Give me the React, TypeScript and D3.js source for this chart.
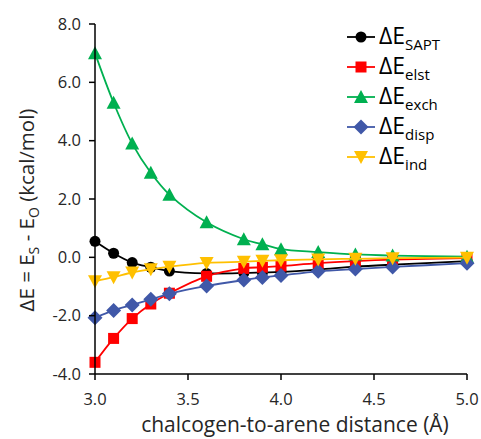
import * as d3 from "d3";

// distances (Å)
const distances = [3.0, 3.1, 3.2, 3.3, 3.4, 3.6, 3.8, 3.9, 4.0, 4.2, 4.4, 4.6, 5.0];

// energy components (kcal/mol)
const sapt = [0.55, 0.14, -0.18, -0.34, -0.47, -0.55, -0.54, -0.52, -0.5, -0.42, -0.32, -0.25, -0.13];
const elst = [-3.6, -2.78, -2.1, -1.6, -1.23, -0.65, -0.38, -0.34, -0.3, -0.2, -0.13, -0.08, -0.03];
const exch = [7.0, 5.3, 3.9, 2.9, 2.15, 1.2, 0.62, 0.45, 0.28, 0.18, 0.1, 0.06, 0.02];
const disp = [-2.07, -1.82, -1.63, -1.44, -1.25, -0.98, -0.78, -0.69, -0.62, -0.48, -0.4, -0.33, -0.2];
const ind = [-0.82, -0.68, -0.52, -0.41, -0.32, -0.19, -0.15, -0.12, -0.1, -0.07, -0.05, -0.03, -0.01];

const yTicks = [-4, -2, 0, 2, 4, 6, 8];
const xTicks = [3.0, 3.5, 4.0, 4.5, 5.0];

const series = [
  { name: "SAPT", values: sapt, color: "#000000", marker: "circle" },
  { name: "elst", values: elst, color: "#ff0000", marker: "square" },
  { name: "exch", values: exch, color: "#00b050", marker: "triangle" },
  { name: "disp", values: disp, color: "#4058a8", marker: "diamond" },
  { name: "ind", values: ind, color: "#ffc000", marker: "triangleDown" },
];

const W = 481;
const H = 439;
const font = "'Open Sans', sans-serif";

const x = d3.scaleLinear().domain([3, 5]).range([95, 467]);
const y = d3.scaleLinear().domain([-4, 8]).range([374, 24]);

const line = d3
  .line<number>()
  .x((_, i) => x(distances[i]))
  .y((d) => y(d))
  .curve(d3.curveCatmullRom);

function Marker({ kind, cx, cy, color }: { kind: string; cx: number; cy: number; color: string }) {
  if (kind === "circle") return <circle cx={cx} cy={cy} r={5.5} fill={color} />;
  if (kind === "square")
    return <rect x={cx - 5.5} y={cy - 5.5} width={11} height={11} fill={color} />;
  if (kind === "triangle")
    return <path d={`M${cx},${cy - 7}L${cx + 7},${cy + 6}L${cx - 7},${cy + 6}Z`} fill={color} />;
  if (kind === "triangleDown")
    return <path d={`M${cx},${cy + 7}L${cx + 7},${cy - 6}L${cx - 7},${cy - 6}Z`} fill={color} />;
  return <path d={`M${cx},${cy - 7.5}L${cx + 7.5},${cy}L${cx},${cy + 7.5}L${cx - 7.5},${cy}Z`} fill={color} />;
}

export default function App() {
  const [y0, y1] = y.range();
  const [x0, x1] = x.range();
  return (
    <svg
      width={W}
      height={H}
      style={{ position: "absolute", left: 0, top: 0, background: "#fff" }}
      fontFamily={font}
    >
      {/* series */}
      {series.map((s) => (
        <g key={s.name}>
          <path d={line(s.values) ?? ""} fill="none" stroke={s.color} strokeWidth={1.8} />
          {s.values.map((v, i) => (
            <Marker key={i} kind={s.marker} cx={x(distances[i])} cy={y(v)} color={s.color} />
          ))}
        </g>
      ))}

      {/* y axis */}
      <line x1={x0} x2={x0} y1={y0} y2={y1} stroke="#000" strokeWidth={1.5} />
      {yTicks.map((t) => (
        <g key={t}>
          <line x1={x0 - 6} x2={x0} y1={y(t)} y2={y(t)} stroke="#000" strokeWidth={1.5} />
          <text x={x0 - 14} y={y(t)} dy="0.35em" textAnchor="end" fontSize={16.5} fill="#262626">
            {t.toFixed(1)}
          </text>
        </g>
      ))}

      {/* x axis */}
      <line x1={x0} x2={x1} y1={y0} y2={y0} stroke="#000" strokeWidth={1.5} />
      {xTicks.map((t) => (
        <g key={t}>
          <line x1={x(t)} x2={x(t)} y1={y0} y2={y0 + 6} stroke="#000" strokeWidth={1.5} />
          <text x={x(t)} y={405} textAnchor="middle" fontSize={16.5} fill="#262626">
            {t.toFixed(1)}
          </text>
        </g>
      ))}

      {/* axis titles */}
      <text x={295} y={432} textAnchor="middle" fontSize={21} fill="#262626">
        chalcogen-to-arene distance (Å)
      </text>
      <text
        transform={`translate(34,${210}) rotate(-90)`}
        textAnchor="middle"
        fontSize={20.5}
        fill="#262626"
      >
        ΔE = E<tspan fontSize={14} dy={5}>S</tspan>
        <tspan dy={-5}> - E</tspan>
        <tspan fontSize={14} dy={5}>O</tspan>
        <tspan dy={-5}> (kcal/mol)</tspan>
      </text>

      {/* legend */}
      {series.map((s, i) => {
        const ly = 37 + i * 30;
        return (
          <g key={s.name}>
            <line x1={347} x2={375} y1={ly} y2={ly} stroke={s.color} strokeWidth={1.8} />
            <Marker kind={s.marker} cx={361} cy={ly} color={s.color} />
            <text x={379} y={ly + 7} fontSize={23} fill="#000">
              ΔE
              <tspan fontSize={15} dy={6}>
                {s.name}
              </tspan>
            </text>
          </g>
        );
      })}
    </svg>
  );
}
